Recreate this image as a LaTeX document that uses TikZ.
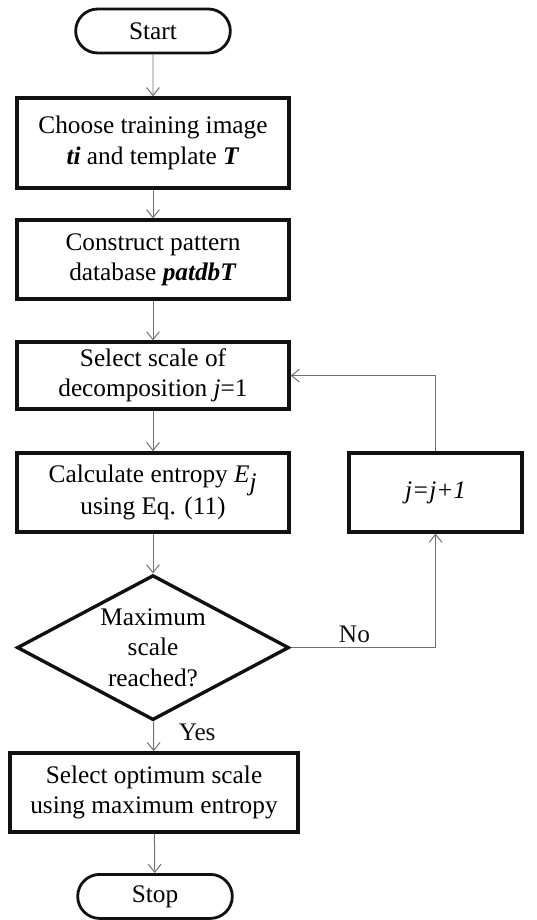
\documentclass[tikz,border=0pt]{standalone}
\usepackage{fontspec}
\setmainfont{Liberation Serif}
\usepackage{xcolor}
\usetikzlibrary{
    shapes.geometric,
    shapes.misc,
    arrows.meta,
    positioning,
    calc
}
\definecolor{dark}{HTML}{111111}
\definecolor{wire}{HTML}{707070}
\newcommand{\flowfont}{\fontsize{18}{21.5}\selectfont}
\tikzset{
    % Start / stop style
    terminal/.style={
        rounded rectangle,
        minimum width=4.1cm,
        minimum height=1.1cm,
        align=center,
        font=\flowfont,
        draw=dark,
        line width=2pt
    },
    % Process box style
    process/.style={
        rectangle,
        minimum width=6.8cm,
        minimum height=1.975cm,
        align=center,
        font=\flowfont,
        draw=dark,
        line width=2.4pt,
        inner sep=2pt
    },
    % Decision style
    decision/.style={
        diamond,
        aspect=1.876,
        minimum width=6.8cm,
        minimum height=3.625cm,
        inner sep=0pt,
        align=center,
        font=\flowfont,
        draw=dark,
        line width=2.4pt
    },
    % Arrow style
    flow/.style={
        -{Straight Barb[length=2mm, width=3.2mm]},
        line width=0.7pt,
        color=wire
    },
    % Label style
    label text/.style={
        font=\flowfont,
        text=dark
    }
}
\begin{document}
\begin{tikzpicture}
        \useasboundingbox (0,0) rectangle (13.425,-23);

        % Main column
        \node[terminal] (start) at (3.825, -0.775) {Start};
        \node[process, minimum height=2.25cm] (choose) at (3.825, -3.575) {Choose training image\\\textbf{\textit{ti}} and template \textbf{\textit{T}}};
        \node[process] (patdb) at (3.825, -6.49) {Construct pattern\\database \textbf{\textit{patdbT}}};
        \node[process, minimum height=1.675cm] (scale) at (3.825, -9.39) {Select scale of\\decomposition \textit{j}=1};
        \node[process] (entropy) at (3.825, -12.31) {Calculate entropy \textit{E}$_{\textit{j}}$\\using Eq. (11)};
        \node[decision] (maxq) at (3.825, -16.19) {Maximum\\scale\\reached?};
        \node[process, minimum width=7.2cm] (optimum) at (3.85, -19.81) {Select optimum scale\\using maximum entropy};
        \node[terminal] (stop) at (3.875, -22.41) {Stop};

        % Loop box
        \node[process, minimum width=4.325cm] (incr) at (10.89, -12.31) {\textit{j=j+1}};

        % Connections
        \draw[flow] (start) -- (choose);
        \draw[flow] (choose) -- (patdb);
        \draw[flow] (patdb) -- (scale);
        \draw[flow] (scale) -- (entropy);
        \draw[flow] (entropy) -- (maxq);
        \draw[flow] (maxq) -- node[label text, pos=0.35, right=5mm] {Yes} (optimum);
        \draw[flow] (optimum) -- (stop);
        \draw[flow] (maxq.east) -| node[label text, pos=0.22, above] {No} (incr.south);
        \draw[flow] (incr.north) |- (scale.east);

    \end{tikzpicture}
\end{document}
